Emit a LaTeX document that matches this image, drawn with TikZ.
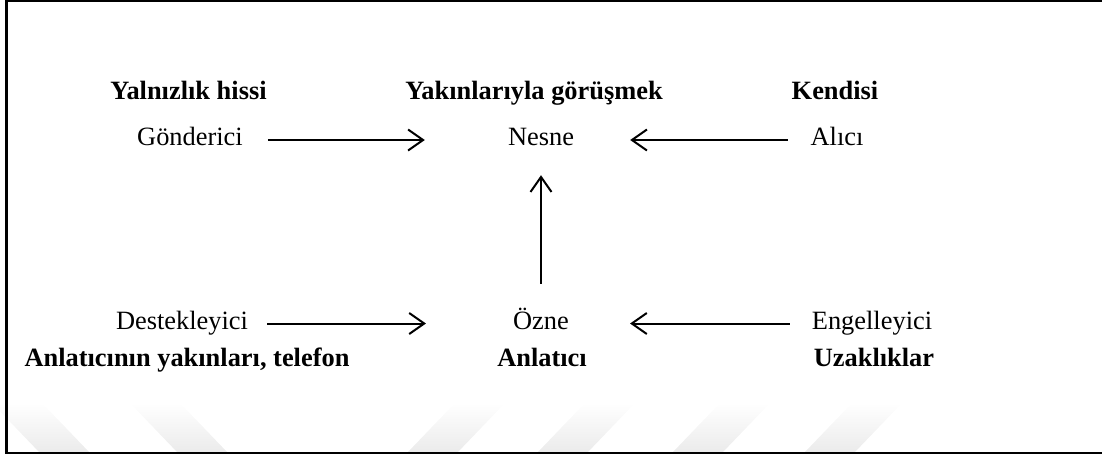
\documentclass[tikz,border=0pt]{standalone}
\usepackage{fontspec}
\setmainfont{Liberation Serif}
\usetikzlibrary{arrows.meta}

\begin{document}
\begin{tikzpicture}[x=1pt,y=-1pt,
  act/.style={font=\fontsize{26.4}{30}\selectfont,inner sep=0pt,text height=11pt,text depth=0pt},
  lbl/.style={font=\fontsize{26.4}{30}\selectfont\bfseries,anchor=base,inner sep=0pt},
  arr/.style={line width=2pt,-{Straight Barb[length=15pt,width=21pt]}},
  band/.style={top color=white,bottom color=black!8,draw=none}]
  \useasboundingbox (0,0) rectangle (1102,456);
  % faint watermark bands
  \begin{scope}
    \clip (0,0) rectangle (1102,456);
    \foreach \a in {-8,130} \shade[band] (\a,403) -- (\a+50,403) -- (\a+98,453) -- (\a+48,453) -- cycle;
    \foreach \a in {455,585,720,852} \shade[band] (\a,403) -- (\a+50,403) -- (\a+2,453) -- (\a-48,453) -- cycle;
  \end{scope}
  \draw[line width=2.5pt] (1102,1.2) -- (6.5,1.2) -- (6.5,453) -- (1102,453);
  % actants
  \node[act] (gonderici) at (190,140) {Gönderici};
  \node[act] (nesne) at (541,140) {Nesne};
  \node[act] (alici) at (837,140) {Alıcı};
  \node[act] (destek) at (182,323.5) {Destekleyici};
  \node[act] (ozne) at (541,323.5) {Özne};
  \node[act] (engel) at (872,323.5) {Engelleyici};
  \node[lbl] (gondericiAd) at (188.5,99) {Yalnızlık hissi};
  \node[lbl] (nesneAd) at (534,99) {Yakınlarıyla görüşmek};
  \node[lbl] (aliciAd) at (835,99) {Kendisi};
  \node[lbl] (destekAd) at (187,366) {Anlatıcının yakınları, telefon};
  \node[lbl] (ozneAd) at (542,366) {Anlatıcı};
  \node[lbl] (engelAd) at (874,366) {Uzaklıklar};
  % arrows
  \draw[arr,shorten <=25pt,shorten >=83pt] (gonderici) -- (nesne);
  \draw[arr,shorten <=22.6pt,shorten >=56pt] (alici) -- (nesne);
  \draw[arr,shorten <=34pt,shorten >=29.5pt] (ozne) -- (nesne);
  \draw[arr,shorten <=19.3pt,shorten >=87pt] (destek) -- (ozne);
  \draw[arr,shorten <=22pt,shorten >=61pt] (engel) -- (ozne);
\end{tikzpicture}
\end{document}
